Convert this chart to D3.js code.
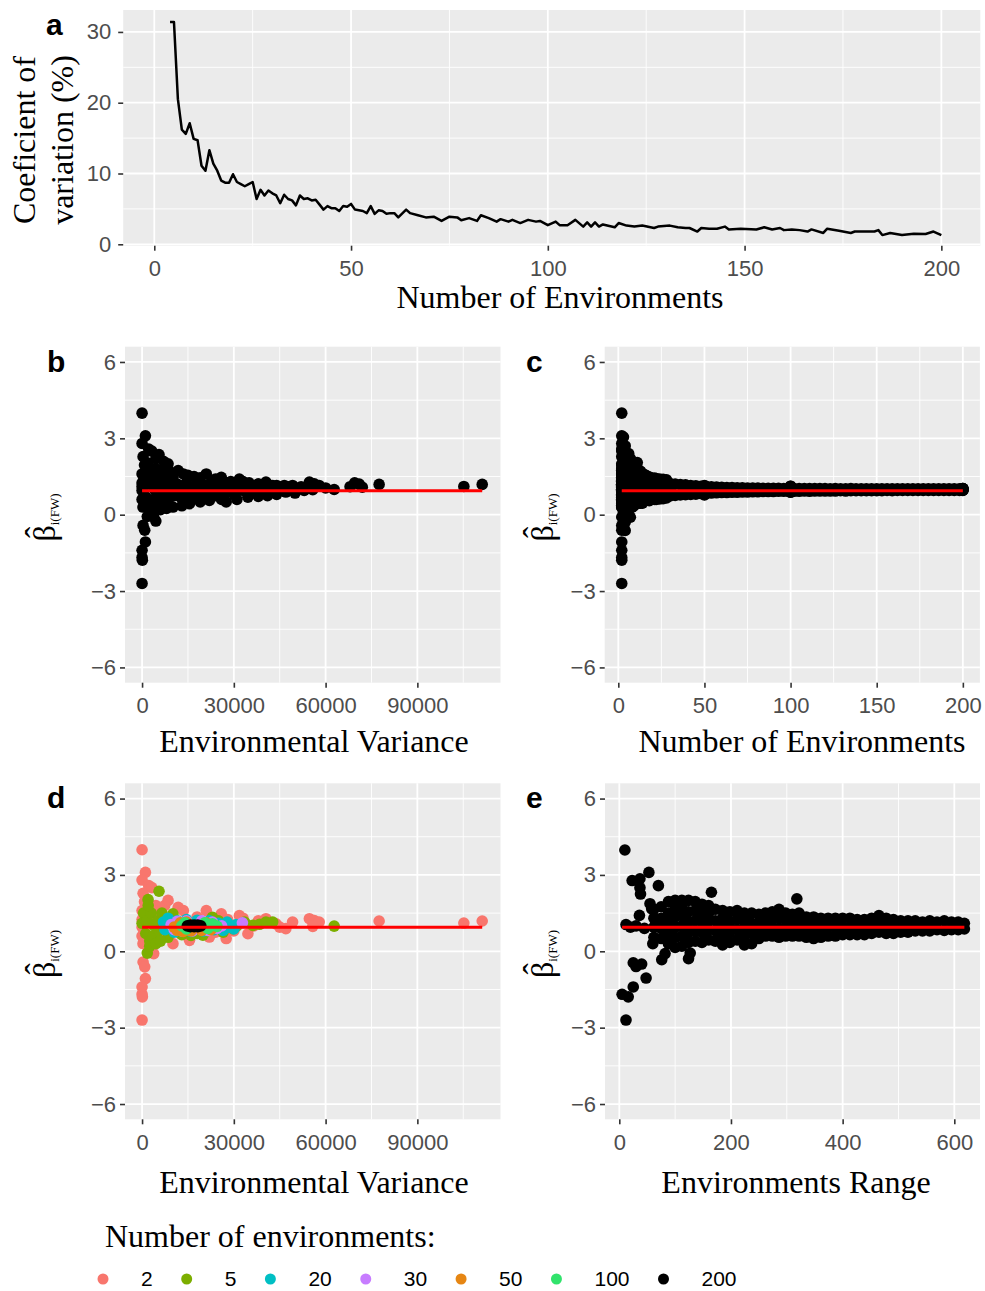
<!DOCTYPE html>
<html><head><meta charset="utf-8">
<script src="https://cdn.jsdelivr.net/npm/d3@7"></script>
<style>body{margin:0;background:#fff}svg{display:block}</style>
</head><body>
<script>
// ---------------- DATA ----------------
// Panel a: coefficient of variation (%) vs number of environments
const cvN = [4,5,6,7,8,9,10,11,12,13,14,15,16,17,18,19,20,21,22,23,24,25,26,27,28,29,30,31,32,33,34,35,36,37,38,39,40,41,42,43,44,45,46,47,48,49,50,51,52,53,54,55,56,57,58,59,60,61,62,
64,65,67,69,71,73,75,77,78,80,82,83,85,87,88,90,91,93,95,97,98,
100,102,103,105,107,109,110,111,112,113,114,117,118,120,122,124,127,128,
131,133,135,136,138,139,141,143,145,146,149,
153,155,157,159,160,162,164,166,167,
170,171,174,177,178,181,183,184,185,187,
190,193,196,198,200];
const cvVal = [31.4,31.4,20.5,16.2,15.6,17.1,14.9,14.7,11.1,10.4,
13.3,11.4,10.4,9.0,8.7,8.7,9.9,8.8,8.5,8.2,
8.5,8.8,6.4,7.7,6.9,7.6,7.2,6.9,5.8,7.0,
6.4,6.2,5.5,6.9,6.4,6.5,6.2,6.3,5.6,4.9,
5.4,5.1,5.1,4.7,5.4,5.3,5.7,4.9,4.8,4.7,
4.4,5.4,4.3,4.8,4.7,4.3,4.4,4.4,3.8,
4.9,4.4,4.1,3.8,3.9,3.3,3.9,3.8,3.4,3.7,3.3,4.1,3.7,3.2,3.55,3.2,3.45,3.0,3.45,3.2,3.3,
2.7,3.2,2.7,2.7,3.45,2.5,3.1,2.5,3.1,2.5,2.8,2.4,3.0,2.64,2.5,2.64,2.3,2.5,
2.64,2.4,2.3,2.3,1.8,2.3,2.2,2.2,2.5,2.1,2.2,
2.1,2.4,2.1,2.3,2.0,2.1,2.0,1.8,2.1,
1.6,2.2,1.9,1.6,1.8,1.8,1.8,2.0,1.3,1.6,
1.3,1.5,1.45,1.8,1.3];

// Panels b/d: [environmental variance, beta] by number of environments
const groupN = [2,5,20,30,50,100,200];
const groupColor = ["#F8766D","#7CAE00","#00BFC4","#C77CFF","#E68613","#31E36C","#000000"];
const pts2 = [[0,3.99],[1090,3.10],[0,2.80],[2170,2.58],[330,2.28],[3200,2.5],[800,1.95],[0,1.6],[2500,1.75],[4500,1.8],[7400,1.8],[8500,2.0],[11800,1.73],[13500,1.6],[0,1.25],[0,0.95],[1500,1.2],[5000,1.4],[0,0.6],[300,0.3],[3600,0.37],[3800,-0.09],[330,-0.42],[870,-0.61],[1090,-1.07],[0,-1.4],[0,-1.68],[100,-1.79],[0,-2.7],
[10100,0.3],[15500,0.43],[22000,0.56],[27500,0.5],[34600,0.69],[12500,0.7],[18000,1.35],[21000,1.6],[25900,1.47],[31800,1.4],[33000,1.3],[28000,1.25],[24000,0.75],[30000,0.8],[36500,1.0],[38000,1.2],[40500,1.28],[43800,1.08],[47000,0.89],[49200,1.15],[54700,1.28],[56300,1.21],[57900,1.15],[55800,0.98],[45000,0.95],[77500,1.19],[105200,1.11],[111200,1.19],[9000,1.3],[16000,1.0],[20000,0.9],[6000,0.6]];
const pts5 = [[1960,2.03],[5540,2.36],[1700,-0.07],[500,1.5],[0,1.1],[1200,0.7],[2500,0.4],[1500,1.2],[3000,1.5],[4000,1.0],[3500,0.6],[5000,1.2],[5500,0.8],[6500,1.5],[7000,1.1],[7900,0.95],[8500,0.55],[10100,1.47],[9500,1.2],[11000,0.85],[12000,1.1],[13000,0.65],[14000,0.8],[16000,0.62],[18000,0.7],[19900,0.63],[21000,1.1],[23000,1.34],[25000,1.2],[26500,0.75],[29700,0.89],[31000,1.0],[33500,1.15],[36200,1.02],[38400,1.06],[40500,1.15],[42700,1.15],[62800,0.99],[2000,1.8],[2500,0.2],[4500,0.3],[6000,0.4]];
const pts20 = [[7000,1.15],[7500,0.85],[8500,1.3],[9500,1.0],[10500,0.75],[11500,1.2],[13000,0.85],[14500,1.25],[16000,0.78],[18000,1.22],[20000,0.8],[22000,1.2],[23500,0.85],[25000,1.1],[26500,0.82],[27800,1.15],[28500,0.95],[30000,0.88],[30800,1.05],[12000,1.0],[20500,1.0],[25500,0.95]];
const pts30 = [[9500,1.05],[10500,0.85],[11500,1.18],[13000,0.8],[14500,1.2],[16500,0.8],[19500,1.2],[21500,0.82],[23000,1.15],[24500,0.9],[32800,1.12],[26000,1.0]];
const pts50 = [[10500,0.95],[11500,0.82],[12500,1.12],[13500,0.78],[14500,1.15],[16000,0.8],[19500,0.82],[21000,1.12],[22500,0.85],[24000,1.0],[20000,1.0]];
const pts100 = [[13000,1.0],[14000,1.12],[14500,0.88],[20500,1.12],[21500,0.9],[23000,1.08],[24500,0.98],[22500,1.0]];
const pts200 = [[14800,1.0],[15800,1.03],[15800,0.97],[17000,1.03],[17000,0.97],[18200,1.03],[18200,0.97],[19200,1.0]];
const groupPts = [pts2,pts5,pts20,pts30,pts50,pts100,pts200];
// Panel b: points from the other numbers of environments
const bOther = [[15000,1.55],[17000,1.5],[19000,1.45],[24000,1.4],[26000,1.35],[29000,1.3],[32000,1.35],[35000,1.25],[38000,1.2],[41000,1.2],[44000,1.15],[46500,1.15],[48000,1.1],[50000,1.05],[52000,1.1],[60000,1.05],[68000,1.1],[69500,1.25],[71000,1.2],[72000,1.08],[53000,0.95],[50000,0.85],[44000,0.8],[41000,0.75],[38000,0.72],[35000,0.78],[31000,0.6],[26000,0.6],[19000,0.5],[13000,0.35],[8000,0.25],[6000,0.2],[4500,-0.25],[3000,0.0],[30000,1.0],[33000,0.95],[36000,0.9],[40000,1.0],[43000,0.95],[47000,1.0],[26000,1.1],[27000,0.85],[9000,1.7],[7000,2.1],[4500,2.2]];

// Panel c: beta vs number of environments (other n than the groups)
const cCols = [[3,[3.05,2.5,1.9,1.3,0.7,0.1,-0.5]],[4,[2.7,2.1,1.5,0.9,0.3,-0.3,-0.62]],[6,[2.4,1.8,1.2,0.6,0.0]],[7,[2.2,1.6,1.0,0.4,-0.1]],[8,[2.1,1.5,0.9,0.3]],[9,[1.95,1.4,0.85,0.35]],[10,[1.9,1.35,0.8,0.45]],[11,[2.05,1.5,1.0,0.5]],[12,[1.75,1.25,0.75,0.45]],[13,[1.7,1.2,0.7,0.45]],[14,[1.6,1.15,0.7,0.45]],[15,[1.58,1.1,0.6]],[16,[1.55,1.1,0.6]],[17,[1.5,1.05,0.6]],[18,[1.48,1.0,0.55]],[19,[1.45,1.0,0.6]],[21,[1.44,1.0,0.6]],[22,[1.42,1.0,0.6]],[24,[1.4,1.0,0.62]],[26,[1.39,1.0,0.63]],[28,[1.37,1.0,0.66]]];
const cEnvN = [30,33,36,39,42,45,48,51,54,57,60,63,66,69,72,75,78,81,84,87,90,93,96,99,102,105,108,111,114,117,120,123,126,129,132,135,138,141,144,147,150,153,156,159,162,165,168,171,174,177,180,183,186,189,192,195,198,200];
const cEnvHi = [1.22,1.20,1.18,1.17,1.15,1.14,1.12,1.11,1.10,1.09,1.08,1.07,1.07,1.06,1.06,1.05,1.05,1.05,1.04,1.04,1.04,1.04,1.03,1.03,1.03,1.03,1.03,1.03,1.03,1.03,1.03,1.02,1.03,1.02,1.02,1.03,1.02,1.02,1.02,1.02,1.02,1.02,1.02,1.02,1.02,1.02,1.02,1.02,1.02,1.02,1.02,1.02,1.02,1.02,1.02,1.02,1.02,1.02];
const cEnvLo = [0.74,0.76,0.78,0.79,0.80,0.81,0.83,0.84,0.85,0.86,0.87,0.87,0.88,0.88,0.89,0.89,0.90,0.90,0.91,0.91,0.91,0.92,0.92,0.92,0.92,0.92,0.93,0.92,0.93,0.93,0.93,0.93,0.93,0.94,0.93,0.94,0.94,0.94,0.94,0.94,0.94,0.94,0.95,0.94,0.95,0.95,0.95,0.95,0.95,0.95,0.95,0.95,0.95,0.95,0.95,0.95,0.95,0.95];

// Panel e: beta vs environments range
const ePts = [[10,3.98],[53,3.1],[23,2.78],[37,2.85],[70,2.58],[37,2.5],[38,2.25],[36,1.41],[165,2.32],[318,2.06],[12,1.05],[5,-1.69],[16,-1.79],[25,-1.4],[12,-2.7],[25,-0.45],[30,-0.6],[40,-0.5],[48,-1.05],[76,-0.33],[82,-0.09],[124,-0.29],[127,-0.07],[58,1.67],[20,0.95],[30,1.0],[45,0.9],[55,1.87],[60,0.3],[65,1.2]];
const eCols = [[62,[0.55,0.95,1.3,1.65]],[75,[0.5,0.9,1.3,1.75]],[88,[0.3,0.7,1.1,1.5,1.95]],[100,[0.15,0.55,0.95,1.35,1.7,2.0]],[112,[0.2,0.6,1.0,1.4,1.75,2.0]],[124,[0.35,0.75,1.15,1.55,2.0]],[136,[0.4,0.8,1.2,1.6,1.95]],[148,[0.35,0.75,1.15,1.5,1.85]],[160,[0.45,0.85,1.2,1.5,1.8]],[172,[0.4,0.8,1.2,1.65]],[185,[0.25,0.6,0.95,1.3,1.6]],[198,[0.35,0.75,1.15,1.55]],[211,[0.45,0.85,1.25,1.6]],[224,[0.25,0.6,0.95,1.25,1.5]],[237,[0.3,0.7,1.1,1.5]],[250,[0.5,0.85,1.15,1.45]],[262,[0.6,0.95,1.25,1.5]],[274,[0.6,0.95,1.25,1.55]],[286,[0.55,0.9,1.3,1.65]],[298,[0.6,0.95,1.25,1.5]],[310,[0.6,0.95,1.25,1.45]],[322,[0.6,0.95,1.25,1.5]],[335,[0.55,0.9,1.15,1.35]],[348,[0.5,0.85,1.1,1.35]],[361,[0.55,0.9,1.1,1.3]],[374,[0.6,0.95,1.3]],[387,[0.6,0.95,1.3]],[400,[0.65,0.95,1.3]],[413,[0.65,0.95,1.3]],[426,[0.65,0.95,1.25]],[439,[0.65,0.95,1.25]],[452,[0.7,1.0,1.3]],[465,[0.75,1.05,1.4]],[478,[0.7,1.0,1.3]],[491,[0.7,1.0,1.25]],[504,[0.75,1.0,1.2]],[517,[0.75,1.0,1.2]],[530,[0.8,1.0,1.2]],[543,[0.8,1.15]],[556,[0.8,1.0,1.2]],[569,[0.85,1.15]],[582,[0.82,1.2]],[595,[0.85,1.15]],[607,[0.85,1.15]],[618,[0.88,1.1]]];

const fitBeta = 0.94; // fitted regression (flat) line value
const legendTitle = "Number of environments:";

// ---------------- DRAWING ----------------
const W = 985, H = 1291;
const SANS = "'Liberation Sans', Arial, sans-serif";
const SERIF = "'Liberation Serif', 'Times New Roman', serif";
const svg = d3.select("body").append("svg").attr("width", W).attr("height", H);
const R = 5.8;

function makePanel(c) {
  const x = d3.scaleLinear().domain(c.xd).range([c.l, c.r]);
  const y = d3.scaleLinear().domain(c.yd).range([c.b, c.t]);
  const g = svg.append("g");
  g.append("rect").attr("x", c.l).attr("y", c.t).attr("width", c.r - c.l).attr("height", c.b - c.t).attr("fill", "#EBEBEB");
  const vline = (v, w) => g.append("line").attr("x1", x(v)).attr("x2", x(v)).attr("y1", c.t).attr("y2", c.b).attr("stroke", "#fff").attr("stroke-width", w);
  const hline = (v, w) => g.append("line").attr("y1", y(v)).attr("y2", y(v)).attr("x1", c.l).attr("x2", c.r).attr("stroke", "#fff").attr("stroke-width", w);
  c.xMinor.forEach(v => vline(v, 0.9));
  c.yMinor.forEach(v => hline(v, 0.9));
  c.xMajor.forEach(v => vline(v, 1.8));
  c.yMajor.forEach(v => hline(v, 1.8));
  const fmt = d3.format("d");
  const ax = svg.append("g").attr("transform", `translate(0,${c.b})`)
    .call(d3.axisBottom(x).tickValues(c.xMajor).tickSize(5).tickPadding(10).tickFormat(fmt));
  const ay = svg.append("g").attr("transform", `translate(${c.l},0)`)
    .call(d3.axisLeft(y).tickValues(c.yMajor).tickSize(5).tickPadding(c.ypad).tickFormat(fmt));
  [ax, ay].forEach(a => {
    a.select(".domain").remove();
    a.selectAll(".tick line").attr("stroke", "#333333").attr("stroke-width", 1.6);
    a.selectAll(".tick text").attr("fill", "#4D4D4D").attr("font-size", 22).attr("font-family", SANS);
  });
  const marks = svg.append("g");
  return { x, y, marks };
}

function xTitle(text, cx, by) {
  svg.append("text").attr("x", cx).attr("y", by).attr("text-anchor", "middle")
    .attr("font-family", SERIF).attr("font-size", 32).attr("fill", "#000").text(text);
}
function tag(text, x, y) {
  svg.append("text").attr("x", x).attr("y", y).attr("font-family", SANS).attr("font-weight", "bold")
    .attr("font-size", 30).attr("fill", "#000").text(text);
}
function betaLabel(bx, cy) {
  const g = svg.append("g").attr("transform", `translate(${bx},${cy}) rotate(-90)`);
  const t = g.append("text").attr("font-family", SERIF).attr("font-size", 32).attr("fill", "#000");
  const b = t.append("tspan").text("\u03B2");
  t.append("tspan").attr("font-size", 13).attr("dy", 4).text("i(FW)");
  const w = t.node().getComputedTextLength();
  const bw = b.node().getComputedTextLength();
  t.attr("x", -w / 2);
  g.append("text").attr("x", -w / 2 + bw / 2 + 1).attr("y", -6).attr("text-anchor", "middle")
    .attr("font-family", SERIF).attr("font-size", 34).attr("fill", "#000").text("\u02C6");
}
function dots(p, data, xf, yf, color) {
  p.marks.append("g").selectAll("circle").data(data).join("circle")
    .attr("cx", d => p.x(xf(d))).attr("cy", d => p.y(yf(d))).attr("r", R).attr("fill", color);
}
function fitLine(p, xs) {
  const ext = d3.extent(xs);
  p.marks.append("line").attr("x1", p.x(ext[0])).attr("x2", p.x(ext[1]))
    .attr("y1", p.y(fitBeta)).attr("y2", p.y(fitBeta)).attr("stroke", "#FF0000").attr("stroke-width", 3);
}

const betaMajor = [-6, -3, 0, 3, 6], betaMinor = [-4.5, -1.5, 1.5, 4.5];

// ---- Panel a ----
const pa = makePanel({ l: 123.2, r: 980.3, t: 10, b: 245.7, xd: [-7.9, 209.9], yd: [-0.2, 33.1],
  xMajor: [0, 50, 100, 150, 200], xMinor: [25, 75, 125, 175], yMajor: [0, 10, 20, 30], yMinor: [5, 15, 25], ypad: 7 });
const cvData = cvN.map((n, i) => [n, cvVal[i]]);
pa.marks.append("path").datum(cvData)
  .attr("d", d3.line().x(d => pa.x(d[0])).y(d => pa.y(d[1])))
  .attr("fill", "none").attr("stroke", "#000").attr("stroke-width", 2.5).attr("stroke-linejoin", "round");
xTitle("Number of Environments", 560, 308);
const ya = svg.append("text").attr("transform", "translate(0,140) rotate(-90)").attr("text-anchor", "middle")
  .attr("font-family", SERIF).attr("font-size", 32).attr("fill", "#000");
ya.append("tspan").attr("x", 0).attr("y", 35).text("Coeficient of");
ya.append("tspan").attr("x", 0).attr("y", 73).text("variation (%)");
tag("a", 46, 35);

// ---- Panel b ----
const allGroups = groupPts.flat();
const pb = makePanel({ l: 125, r: 500.5, t: 346.7, b: 682.7, xd: [-5580, 117180], yd: [-6.6, 6.6],
  xMajor: [0, 30000, 60000, 90000], xMinor: [15000, 45000, 75000, 105000], yMajor: betaMajor, yMinor: betaMinor, ypad: 4 });
dots(pb, allGroups.concat(bOther), d => d[0], d => d[1], "#000");
fitLine(pb, allGroups.map(d => d[0]));
xTitle("Environmental Variance", 314, 751.7);
betaLabel(55, 517.5);
tag("b", 47, 371.7);

// ---- Panel c ----
const cData = [];
groupN.forEach((n, i) => groupPts[i].forEach(d => cData.push([n, d[1]])));
cCols.forEach(([n, bs]) => bs.forEach(b => cData.push([n, b])));
cEnvN.forEach((n, i) => { cData.push([n, cEnvHi[i]]); cData.push([n, cEnvLo[i]]); });
const pc = makePanel({ l: 604.7, r: 979.9, t: 346.7, b: 682.7, xd: [-7.9, 209.9], yd: [-6.6, 6.6],
  xMajor: [0, 50, 100, 150, 200], xMinor: [25, 75, 125, 175], yMajor: betaMajor, yMinor: betaMinor, ypad: 4 });
dots(pc, cData, d => d[0], d => d[1], "#000");
fitLine(pc, cData.map(d => d[0]));
xTitle("Number of Environments", 802, 751.7);
betaLabel(553, 517.5);
tag("c", 526, 371.7);

// ---- Panel d ----
const pd = makePanel({ l: 125, r: 500.5, t: 783.3, b: 1119.3, xd: [-5580, 117180], yd: [-6.6, 6.6],
  xMajor: [0, 30000, 60000, 90000], xMinor: [15000, 45000, 75000, 105000], yMajor: betaMajor, yMinor: betaMinor, ypad: 4 });
groupPts.forEach((pts, i) => dots(pd, pts, d => d[0], d => d[1], groupColor[i]));
fitLine(pd, allGroups.map(d => d[0]));
xTitle("Environmental Variance", 314, 1193.3);
betaLabel(55, 954);
tag("d", 47, 808.3);

// ---- Panel e ----
const eData = ePts.slice();
eCols.forEach(([x, bs]) => bs.forEach(b => eData.push([x, b])));
const pe = makePanel({ l: 605, r: 980, t: 783.3, b: 1119.3, xd: [-25.6, 646], yd: [-6.6, 6.6],
  xMajor: [0, 200, 400, 600], xMinor: [100, 300, 500], yMajor: betaMajor, yMinor: betaMinor, ypad: 4 });
dots(pe, eData, d => d[0], d => d[1], "#000");
fitLine(pe, eData.map(d => d[0]));
xTitle("Environments Range", 796, 1193.3);
betaLabel(553, 954);
tag("e", 526, 808.3);

// ---- Legend ----
svg.append("text").attr("x", 105).attr("y", 1247).attr("font-family", SERIF).attr("font-size", 32)
  .attr("fill", "#000").text(legendTitle);
let lx = 103;
groupN.forEach((n, i) => {
  svg.append("circle").attr("cx", lx).attr("cy", 1279).attr("r", 5.5).attr("fill", groupColor[i]);
  const t = svg.append("text").attr("x", lx + 38).attr("y", 1286).attr("font-family", SANS)
    .attr("font-size", 21).attr("fill", "#000").text(String(n));
  lx = lx + 38 + t.node().getComputedTextLength() + 34;
});
</script>
</body></html>
